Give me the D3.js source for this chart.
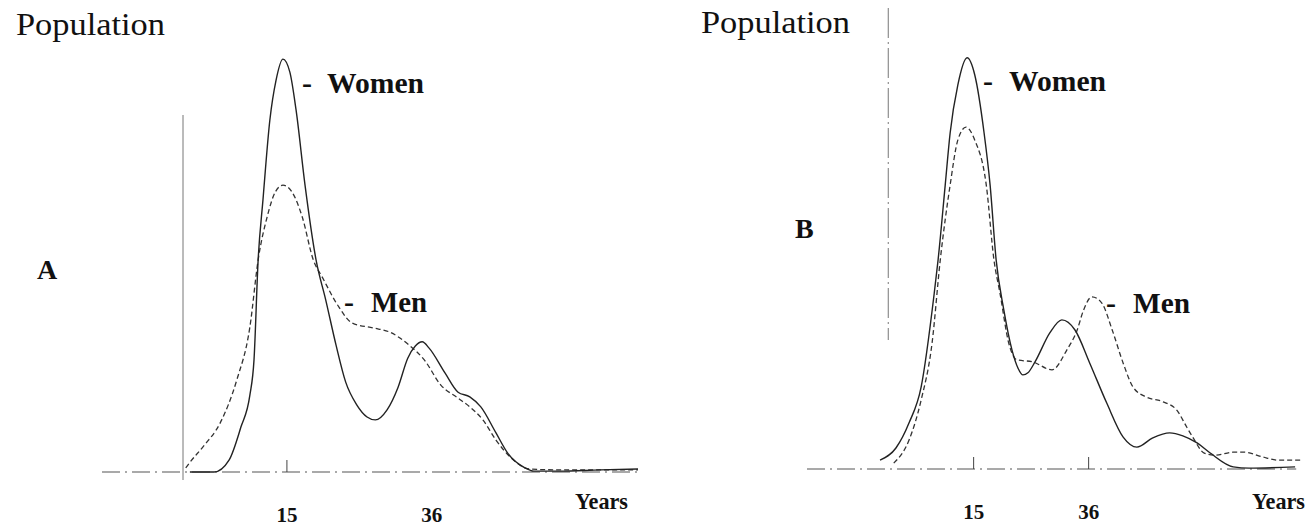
<!DOCTYPE html>
<html>
<head>
<meta charset="utf-8">
<script src="https://cdn.jsdelivr.net/npm/d3@7"></script>
<style>
  body { margin: 0; background: #fff; }
  svg { display: block; }
</style>
</head>
<body>
<svg id="chart" width="1312" height="526"></svg>
<script>
// ages (years) and relative population
const tickValues = [15, 36];

const womenA = [[1, 0], [4.5, 0], [6.7, 2.9], [8.4, 10.7], [9.7, 18.3], [10.3, 26.7], [10.9, 50.5],
  [11.6, 64.8], [12.6, 83.8], [13.5, 93.3], [14.5, 98.3], [15.5, 95.2], [16.4, 86.2], [17.7, 68.3],
  [19.3, 50.5], [20.7, 41.0], [22.2, 30.2], [23.6, 21.4], [25.2, 16.0], [26.7, 13.1], [27.9, 12.4],
  [29.6, 14.8], [31.2, 20.2], [32.6, 27.1], [33.7, 30.0], [34.7, 31.0], [35.7, 29.5], [38.0, 23.6],
  [39.9, 19.0], [41.6, 17.9], [43.2, 15.5], [45.4, 9.3], [47.1, 4.5], [49.6, 1.0], [50.9, 0.2],
  [54.7, 0.2], [60.5, 0.5], [66, 0.7]];

const menA = [[0.4, 1.0], [0.9, 2.1], [2.9, 6.0], [5.4, 11.7], [7.8, 21.9], [9.7, 34.5], [10.9, 50.5],
  [12.2, 60.7], [13.4, 66.7], [14.5, 68.3], [15.8, 66.7], [17.3, 60.7], [18.9, 50.5], [20.2, 46.4],
  [22.6, 39.3], [24.5, 35.5], [27.6, 34.3], [30.0, 33.3], [32.8, 30.2], [35.0, 26.7], [37.4, 20.7],
  [39.9, 17.6], [41.6, 15.5], [43.5, 12.4], [45.4, 7.6], [47.9, 2.9], [50.3, 0.7], [54.7, 0.5], [66, 0.5]];

const womenB = [[-2.0, 2.1], [0.9, 5.0], [3.3, 11.0], [5.5, 19.5], [7.9, 41.9], [8.6, 49.8], [9.9, 67.6],
  [10.8, 80.0], [12.2, 91.4], [13.9, 97.9], [15.3, 93.8], [17.0, 80.0], [18.1, 67.6], [19.2, 49.8],
  [20.6, 37.9], [22.1, 28.3], [23.2, 24.0], [24.1, 22.4], [25.0, 22.9], [26.3, 25.5], [29.0, 32.4],
  [31.2, 35.5], [33.6, 33.1], [36.3, 25.2], [39.4, 15.7], [42.4, 7.6], [44.9, 5.2], [47.8, 7.4],
  [50.9, 8.6], [53.3, 7.9], [55.9, 6.2], [58.3, 3.8], [62.5, 0.5], [65.4, 0.2], [73.8, 0.5]];

const menB = [[0.5, 1.4], [3.3, 6.9], [5.5, 16.4], [7.5, 30.0], [9.0, 49.8], [10.8, 67.6], [12.2, 78.3],
  [13.7, 81.4], [15.3, 78.3], [17.4, 67.6], [18.8, 49.8], [19.9, 41.9], [21.5, 30.0], [23.0, 26.0],
  [25.9, 25.5], [29.4, 23.6], [32.1, 28.3], [34.0, 33.1], [35.1, 37.6], [36.7, 41.0], [38.5, 39.5],
  [40.4, 33.1], [42.4, 25.2], [44.2, 19.5], [46.7, 17.1], [49.7, 16.0], [52.2, 14.0], [54.0, 10.0],
  [55.1, 7.6], [57.2, 3.8], [59.3, 3.3], [62.5, 4.0], [64.6, 4.0], [67.8, 2.9], [70.7, 2.1], [74.9, 2.1]];

const serif = "'Liberation Serif', 'Times New Roman', serif";
const svg = d3.select('#chart');

function drawPanel(p) {
  const x = d3.scaleLinear().domain(p.xDomain).range(p.xRange);
  const y = d3.scaleLinear().domain([0, 100]).range(p.yRange);
  const g = svg.append('g');
  const base = y(0);

  // baseline (dash-dot)
  g.append('line')
    .attr('x1', p.baseFrom).attr('x2', p.xRange[1])
    .attr('y1', base).attr('y2', base)
    .attr('stroke', '#555').attr('stroke-width', 1.2)
    .attr('stroke-dasharray', '18,5,2,5');

  // vertical axis
  g.append('line')
    .attr('x1', x(p.axisAge)).attr('x2', x(p.axisAge))
    .attr('y1', p.axisTop).attr('y2', p.axisBottom)
    .attr('stroke', '#777').attr('stroke-width', 1)
    .attr('stroke-dasharray', p.axisDash);

  // ticks and labels
  const axis = g.append('g')
    .attr('transform', `translate(0,${base})`)
    .call(d3.axisBottom(x).tickValues(tickValues).tickSize(-12).tickPadding(35));
  axis.select('.domain').remove();
  axis.selectAll('.tick line')
    .attr('stroke', '#444')
    .attr('opacity', d => p.tickMarks.includes(d) ? 1 : 0);
  axis.selectAll('.tick text')
    .attr('font-family', serif).attr('font-size', 21).attr('font-weight', 'bold')
    .attr('fill', '#111');

  const line = d3.line()
    .x(d => x(d[0]))
    .y(d => y(d[1]))
    .curve(d3.curveMonotoneX);

  g.append('path').datum(p.men)
    .attr('d', line).attr('fill', 'none')
    .attr('stroke', '#333').attr('stroke-width', 1.3)
    .attr('stroke-dasharray', '5,3');

  g.append('path').datum(p.women)
    .attr('d', line).attr('fill', 'none')
    .attr('stroke', '#222').attr('stroke-width', 1.4);

  // texts
  g.append('text').text('Population')
    .attr('x', p.popX).attr('y', p.popY)
    .attr('font-family', serif).attr('font-size', 31)
    .attr('textLength', 149).attr('lengthAdjust', 'spacingAndGlyphs')
    .attr('fill', '#111');

  g.append('text').text(p.letter)
    .attr('x', p.letterX).attr('y', p.letterY)
    .attr('font-family', serif).attr('font-size', 28).attr('font-weight', 'bold')
    .attr('fill', '#111');

  g.append('text').text('Years')
    .attr('x', p.yearsX).attr('y', 509)
    .attr('font-family', serif).attr('font-size', 23).attr('font-weight', 'bold')
    .attr('textLength', 53).attr('lengthAdjust', 'spacingAndGlyphs')
    .attr('fill', '#111');

  p.labels.forEach(function(l) {
    g.append('text').text('-')
      .attr('x', l.dashX).attr('y', l.y)
      .attr('font-family', serif).attr('font-size', 30).attr('font-weight', 'bold')
      .attr('fill', '#111');
    g.append('text').text(l.name)
      .attr('x', l.x).attr('y', l.y)
      .attr('font-family', serif).attr('font-size', 30).attr('font-weight', 'bold')
      .attr('textLength', l.w).attr('lengthAdjust', 'spacingAndGlyphs')
      .attr('fill', '#111');
  });
}

drawPanel({
  women: womenA, men: menA,
  xDomain: [0, 66], xRange: [183, 638], yRange: [472, 52],
  baseFrom: 102, axisAge: 0, axisTop: 115, axisBottom: 480, axisDash: null,
  tickMarks: [15],
  popX: 16, popY: 35, letter: 'A', letterX: 37, letterY: 279, yearsX: 575,
  labels: [
    { name: 'Women', dashX: 302, x: 327, y: 93, w: 97 },
    { name: 'Men', dashX: 344, x: 371, y: 312, w: 56 }
  ]
});

drawPanel({
  women: womenB, men: menB,
  xDomain: [-4, 74], xRange: [869.1, 1296.2], yRange: [469, 49],
  baseFrom: 807, axisAge: -0.5, axisTop: 8, axisBottom: 340, axisDash: '30,4,2,4',
  tickMarks: [15, 36],
  popX: 701, popY: 33, letter: 'B', letterX: 795, letterY: 238, yearsX: 1252,
  labels: [
    { name: 'Women', dashX: 983, x: 1009, y: 91, w: 97 },
    { name: 'Men', dashX: 1106, x: 1133, y: 313, w: 57 }
  ]
});
</script>
</body>
</html>
